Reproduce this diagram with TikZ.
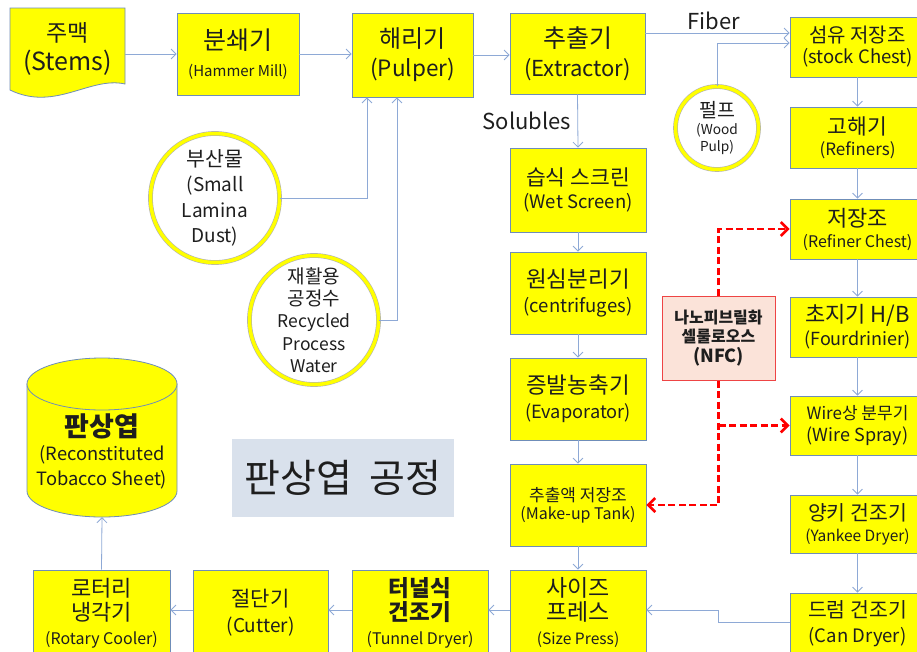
\documentclass[tikz,border=0pt]{standalone}
\usepackage{fontspec}
\setmainfont{Noto Sans CJK KR}
\usetikzlibrary{arrows.meta,calc}
\definecolor{boxyellow}{HTML}{FFFF00}
\definecolor{boxline}{HTML}{6F8DB8}
\definecolor{arrowblue}{HTML}{8EA9D6}
\definecolor{nfcfill}{HTML}{FBE3D9}
\definecolor{nfcline}{HTML}{EE4444}
\definecolor{titlefill}{HTML}{D9E1EC}
\definecolor{txt}{HTML}{1E1E1E}
\newcommand\fsz[1]{\fontsize{#1}{#1}\selectfont}
\tikzset{
  box/.style={draw=boxline, fill=boxyellow, line width=0.8pt, align=center, inner sep=0pt, text=txt},
  plain/.style={align=center, inner sep=0pt, text=txt},
  circ/.style={circle, draw=gray!60, double=boxyellow, double distance=3.5pt, line width=0.6pt, fill=white, align=center, inner sep=0pt, text=txt},
  arr/.style={draw=arrowblue, line width=0.8pt, -{Straight Barb[length=5pt,width=10pt]}},
  nfcarr/.style={draw=red, line width=2.6pt, dash pattern=on 7pt off 3.5pt, -{Straight Barb[length=7pt,width=14pt,line width=2.6pt]}},
}
\begin{document}
\begin{tikzpicture}[x=1pt,y=-1pt]
\useasboundingbox (0,0) rectangle (917,651);
\fill[white] (0,0) rectangle (917,651);

% document shape for stems
\filldraw[draw=boxline, fill=boxyellow, line width=0.8pt] (10,8) -- (125,8) -- (125,84) .. controls (90,76) and (55,112) .. (10,90) -- cycle;
\node[plain, minimum width=115, minimum height=82, font=\fontsize{25}{29}\selectfont] (stems) at (67.5,49) {{\fsz{23}주맥}\\(Stems)};

\node[box, minimum width=122, minimum height=82, font=\fontsize{15}{27}\selectfont] (hammer) at (238,54) {{\fsz{25}분쇄기}\\(Hammer Mill)};
\node[box, minimum width=121, minimum height=84, font=\fontsize{22.5}{29}\selectfont] (pulper) at (412.5,55) {{\fsz{24}해리기}\\(Pulper)};
\node[box, minimum width=135, minimum height=81, font=\fontsize{22}{29}\selectfont] (extractor) at (577.5,53.5) {{\fsz{25}추출기}\\(Extractor)};

% right column
\node[box, minimum width=135, minimum height=60, font=\fontsize{18.5}{21}\selectfont] (stock) at (857.5,47) {{\fsz{20}섬유 저장조}\\(stock Chest)};
\node[box, minimum width=135, minimum height=61, font=\fontsize{17}{21}\selectfont] (refiners) at (857.5,137.5) {{\fsz{21.5}고해기}\\(Refiners)};
\node[box, minimum width=135, minimum height=60, font=\fontsize{16}{21}\selectfont] (refchest) at (857.5,229) {{\fsz{22}저장조}\\(Refiner Chest)};
\node[box, minimum width=135, minimum height=60, font=\fontsize{18}{23}\selectfont] (fourd) at (857.5,327) {{\fsz{22}초지기 H/B}\\(Fourdrinier)};
\node[box, minimum width=135, minimum height=59, font=\fontsize{18}{22}\selectfont] (wire) at (857.5,425.5) {{\fsz{17}Wire상 분무기}\\(Wire Spray)};
\node[box, minimum width=135, minimum height=58, font=\fontsize{15.5}{21}\selectfont] (yankee) at (857.5,524) {{\fsz{20.5}양키 건조기}\\(Yankee Dryer)};
\node[box, minimum width=135, minimum height=62, font=\fontsize{18.5}{25}\selectfont] (candryer) at (857.5,624) {{\fsz{20.5}드럼 건조기}\\(Can Dryer)};

% middle column
\node[box, minimum width=136, minimum height=84, font=\fontsize{18.5}{23}\selectfont] (wet) at (578,190) {{\fsz{21.5}습식 스크린}\\(Wet Screen)};
\node[box, minimum width=136, minimum height=82, font=\fontsize{18.5}{25}\selectfont] (centri) at (578,293) {{\fsz{22.5}원심분리기}\\(centrifuges)};
\node[box, minimum width=136, minimum height=82, font=\fontsize{18.2}{25}\selectfont] (evap) at (578,399) {{\fsz{22.5}증발농축기}\\(Evaporator)};
\node[box, minimum width=136, minimum height=82, font=\fontsize{16}{18.5}\selectfont] (makeup) at (578,505) {{\fsz{17}추출액 저장조}\\(Make-up Tank)};
\node[box, minimum width=136, minimum height=86, font=\fontsize{15.6}{24}\selectfont] (size) at (578,613) {{\fsz{23}사이즈}\\{\fsz{23}프레스}\\(Size Press)};

% bottom row
\node[box, minimum width=136, minimum height=86, font=\fontsize{16}{24}\selectfont] (tunnel) at (420,613) {{\fsz{22.5}\bfseries 터널식}\\{\fsz{22.5}\bfseries 건조기}\\(Tunnel Dryer)};
\node[box, minimum width=135, minimum height=86, font=\fontsize{19}{26}\selectfont] (cutter) at (260.5,613) {{\fsz{21}절단기}\\(Cutter)};
\node[box, minimum width=137, minimum height=86, font=\fontsize{16}{24}\selectfont] (rotary) at (101.5,613) {{\fsz{22}로터리}\\{\fsz{22}냉각기}\\(Rotary Cooler)};

% cylinder
\filldraw[draw=boxline, fill=boxyellow, line width=0.8pt] (27,384) -- (27,491) arc[start angle=180, end angle=360, x radius=75pt, y radius=26pt] -- (177,384) -- cycle;
\filldraw[draw=boxline, fill=boxyellow, line width=0.8pt] (102,384) ellipse[x radius=75pt, y radius=26pt];
\node[plain, minimum width=150, minimum height=159] (sheet) at (102,437.5) {};
\node[plain, font=\fontsize{18.3}{24.5}\selectfont] (sheettxt) at (102,451) {{\fsz{27}\bfseries 판상엽}\\(Reconstituted\\Tobacco Sheet)};

% NFC
\node[draw=nfcline, fill=nfcfill, line width=1pt, minimum width=113, minimum height=84, align=center, inner sep=0pt, text=txt, font=\fontsize{16}{19.5}\selectfont] (nfc) at (718.5,338) {{\bfseries 나노피브릴화}\\{\bfseries 셀룰로오스}\\{\fsz{18}\bfseries (NFC)}};

% circles
\node[circ, minimum size=129, font=\fontsize{19}{25.3}\selectfont] (dust) at (215,198) {{\fsz{20.5}부산물}\\(Small\\Lamina\\Dust)};
\node[circ, minimum size=129, font=\fontsize{17.5}{22.3}\selectfont] (water) at (314,320) {{\fsz{19}재활용}\\{\fsz{19}공정수}\\Recycled\\Process\\Water};
\node[circ, minimum size=83, font=\fontsize{13.7}{17}\selectfont] (pulp) at (717,128) {{\fsz{19.5}펄프}\\(Wood\\Pulp)};

% title
\node[fill=titlefill, minimum width=222, minimum height=78, inner sep=0pt, text=txt, font=\fsz{39}] (title) at (343,478) {판상엽\hspace{0.45em}공정};

% labels
\node[plain, font=\fsz{22}] (fiberlbl) at (714,21) {Fiber};
\node[plain, font=\fsz{22}] (sollbl) at (527,121) {Solubles};

% connectors
\draw[arr] (stems.east |- hammer.west) -- (hammer.west);
\draw[arr] (hammer.east) -- (hammer.east -| pulper.west);
\draw[arr] (pulper.east) -- (pulper.east -| extractor.west);
\draw[arr] (extractor.east |- 0,33) -- (stock.west |- 0,33);
\draw[arr] (pulp.north) |- (stock.west |- 0,43);
\draw[arr] (dust.east) -| ([xshift=-45.5pt]pulper.south);
\draw[arr] (water.east) -| ([xshift=-15.5pt]pulper.south);
\draw[arr] (extractor.south) -- (wet.north);
\draw[arr] (wet.south) -- (centri.north);
\draw[arr] (centri.south) -- (evap.north);
\draw[arr] (evap.south) -- (makeup.north);
\draw[arr] (makeup.south) -- (makeup.south |- size.north);
\draw[arr] (stock.south) -- (refiners.north);
\draw[arr] (refiners.south) -- (refchest.north);
\draw[arr] (refchest.south) -- (fourd.north);
\draw[arr] (fourd.south) -- (wire.north);
\draw[arr] (wire.south) -- (yankee.north);
\draw[arr] (yankee.south) -- (candryer.north);
\draw[arr] (candryer.west |- 0,622) -- (718,622) -- (718,610) -- (size.east |- 0,610);
\draw[arr] (size.west |- 0,610) -- (tunnel.east |- 0,610);
\draw[arr] (tunnel.west |- 0,610) -- (cutter.east |- 0,610);
\draw[arr] (cutter.west |- 0,610) -- (rotary.east |- 0,610);
\draw[arr] (rotary.north) -- (sheet.south);

\draw[nfcarr] (nfc.north) |- (refchest.west);
\draw[nfcarr] (nfc.south) |- (makeup.east);
\draw[nfcarr] (nfc.south |- wire.west) -- (wire.west);
\end{tikzpicture}
\end{document}
